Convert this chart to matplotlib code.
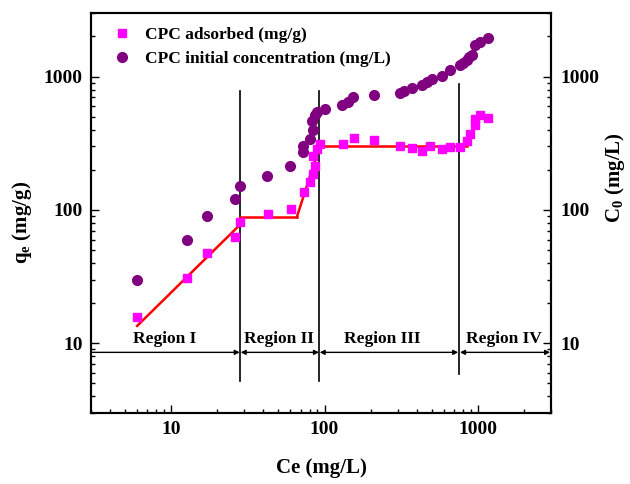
import matplotlib
matplotlib.use("Agg")
import matplotlib.pyplot as plt
from matplotlib.ticker import LogLocator, NullFormatter, FixedLocator, FixedFormatter

plt.rcParams['font.family'] = ['Liberation Serif', 'DejaVu Serif']
plt.rcParams['font.weight'] = 'bold'
plt.rcParams['mathtext.fontset'] = 'custom'
plt.rcParams['mathtext.rm'] = 'Liberation Serif:bold'
plt.rcParams['mathtext.it'] = 'Liberation Serif:italic:bold'
plt.rcParams['mathtext.bf'] = 'Liberation Serif:bold'

# CPC adsorbed (mg/g) vs Ce
ce_q = [6.0, 12.7, 17.1, 26.1, 28.2, 42.7, 60.2, 73.5, 80.5, 84.6, 86.7, 84.6, 89.8, 93.5,
        132.6, 155.6, 211, 310, 370, 430, 486, 580, 657, 764, 844, 887, 956, 960, 1031, 1167]
qe = [15.7, 30.8, 47.5, 62.3, 80.8, 93.3, 101.7, 135.9, 161.5, 186.6, 215.4, 255.9, 287.6, 313,
      313, 345, 335, 300, 292, 279, 300, 288, 295, 296, 330, 373, 430, 483, 512, 490]

# CPC initial concentration (mg/L) vs Ce
ce_c0 = [6.0, 12.7, 17.1, 26.1, 28.2, 42.0, 59.6, 72.1, 72.8, 80.5, 84.6, 82.5, 86.7, 89.8, 100.7,
         129.4, 143, 154, 211, 310, 330, 370, 430, 464, 499, 580, 657, 764, 800, 844, 880, 910,
         956, 1031, 1167]
c0 = [29.8, 59.5, 90.6, 121, 150.7, 181, 211.8, 271, 304, 342, 395, 461, 512, 543, 574,
      608, 646, 703, 723, 754, 780, 822, 861, 912, 967, 1012, 1115, 1216, 1260, 1325, 1400, 1445,
      1718, 1823, 1932]

# Fitted line segments (piecewise)
fit_x = [[6.0, 27.7], [28.0, 65.9], [65.9, 95.0], [92.0, 850.0]]
fit_y = [[13.5, 76.2], [88.0, 88.0], [88.0, 325.0], [302.0, 302.0]]

# Region boundaries
bound_x = [28.2, 92.5, 755.0]
bound_ylo = [5.2, 5.2, 5.85]
bound_yhi = [785.0, 785.0, 885.0]
region_labels = ['Region I', 'Region II', 'Region III', 'Region IV']
region_label_x = [9.1, 50.6, 239.0, 1476.0]
arrow_x = [(3.0, 28.0), (28.4, 92.0), (93.0, 745.0), (765.0, 2960.0)]
arrow_y = 8.55
label_y = 10.8

fig = plt.figure(figsize=(6.3, 4.84), dpi=100)
ax = fig.add_axes([91/630, 1-413/484, 460/630, 400/484])
ax2 = ax.twinx()

for a in (ax, ax2):
    a.set_xscale('log')
    a.set_yscale('log')
    a.set_xlim(3, 3000)
    a.set_ylim(3, 3000)

for i in range(len(fit_x)):
    ax.plot(fit_x[i], fit_y[i], color='#ff0000', lw=1.8, zorder=3)

h1, = ax.plot(ce_q, qe, ls='none', marker='s', ms=6.3, color='#ff00ff', mec='#ff00ff',
              label='CPC adsorbed (mg/g)', zorder=4)
h2, = ax2.plot(ce_c0, c0, ls='none', marker='o', ms=7, color='#800080', mec='#800080',
               label='CPC initial concentration (mg/L)', zorder=4)

for bx, lo, hi in zip(bound_x, bound_ylo, bound_yhi):
    ax.plot([bx, bx], [lo, hi], color='black', lw=1.2, zorder=2)

for i, (x0, x1) in enumerate(arrow_x):
    style = '-|>' if i == 0 else '<|-|>'
    ax.annotate('', xy=(x1, arrow_y), xytext=(x0, arrow_y),
                arrowprops=dict(arrowstyle=style, color='black', lw=1.0,
                                mutation_scale=7, shrinkA=0, shrinkB=0))
for t, x in zip(region_labels, region_label_x):
    ax.text(x, label_y, t, ha='center', va='center', fontsize=12.5, fontweight='bold')

for a in (ax, ax2):
    for s in a.spines.values():
        s.set_linewidth(1.5)

ax.tick_params(axis='both', which='major', direction='in', length=6, width=1.0,
               labelsize=14, pad=6)
ax.tick_params(axis='both', which='minor', direction='in', length=3, width=1.0)
ax.tick_params(axis='x', which='both', top=False)
ax.tick_params(axis='y', which='both', right=False)
ax2.tick_params(axis='y', which='major', direction='in', length=6, width=1.0,
                labelsize=14, pad=7)
ax2.tick_params(axis='y', which='minor', direction='in', length=3, width=1.0)
ax2.tick_params(axis='x', which='both', top=False, bottom=False)

maj = [10, 100, 1000]
for axis in (ax.xaxis, ax.yaxis, ax2.yaxis):
    axis.set_major_locator(FixedLocator(maj))
    axis.set_major_formatter(FixedFormatter([str(m) for m in maj]))
    axis.set_minor_locator(LogLocator(base=10, subs=range(2, 10), numticks=20))
    axis.set_minor_formatter(NullFormatter())
for lab in ax.get_xticklabels() + ax.get_yticklabels() + ax2.get_yticklabels():
    lab.set_fontweight('bold')

fig.text(321/630, 1-468/484, 'Ce (mg/L)', ha='center', va='center', fontsize=15, fontweight='bold')
fig.text(22/630, 1-222/484, r'q$_\mathrm{e}$ (mg/g)', ha='center', va='center', rotation=90,
         fontsize=15, fontweight='bold')
fig.text(615/630, 1-178/484, r'C$_\mathrm{0}$ (mg/L)', ha='center', va='center', rotation=90,
         fontsize=15, fontweight='bold')

ax2.legend(handles=[h1, h2], loc='upper left', frameon=False,
           bbox_to_anchor=(6/460, 1-2/400),
           prop={'weight': 'bold', 'size': 12.5}, handletextpad=0.55, handlelength=1.5,
           borderaxespad=0.3, labelspacing=0.45, borderpad=0.4)

fig.savefig('out.png', dpi=100)
